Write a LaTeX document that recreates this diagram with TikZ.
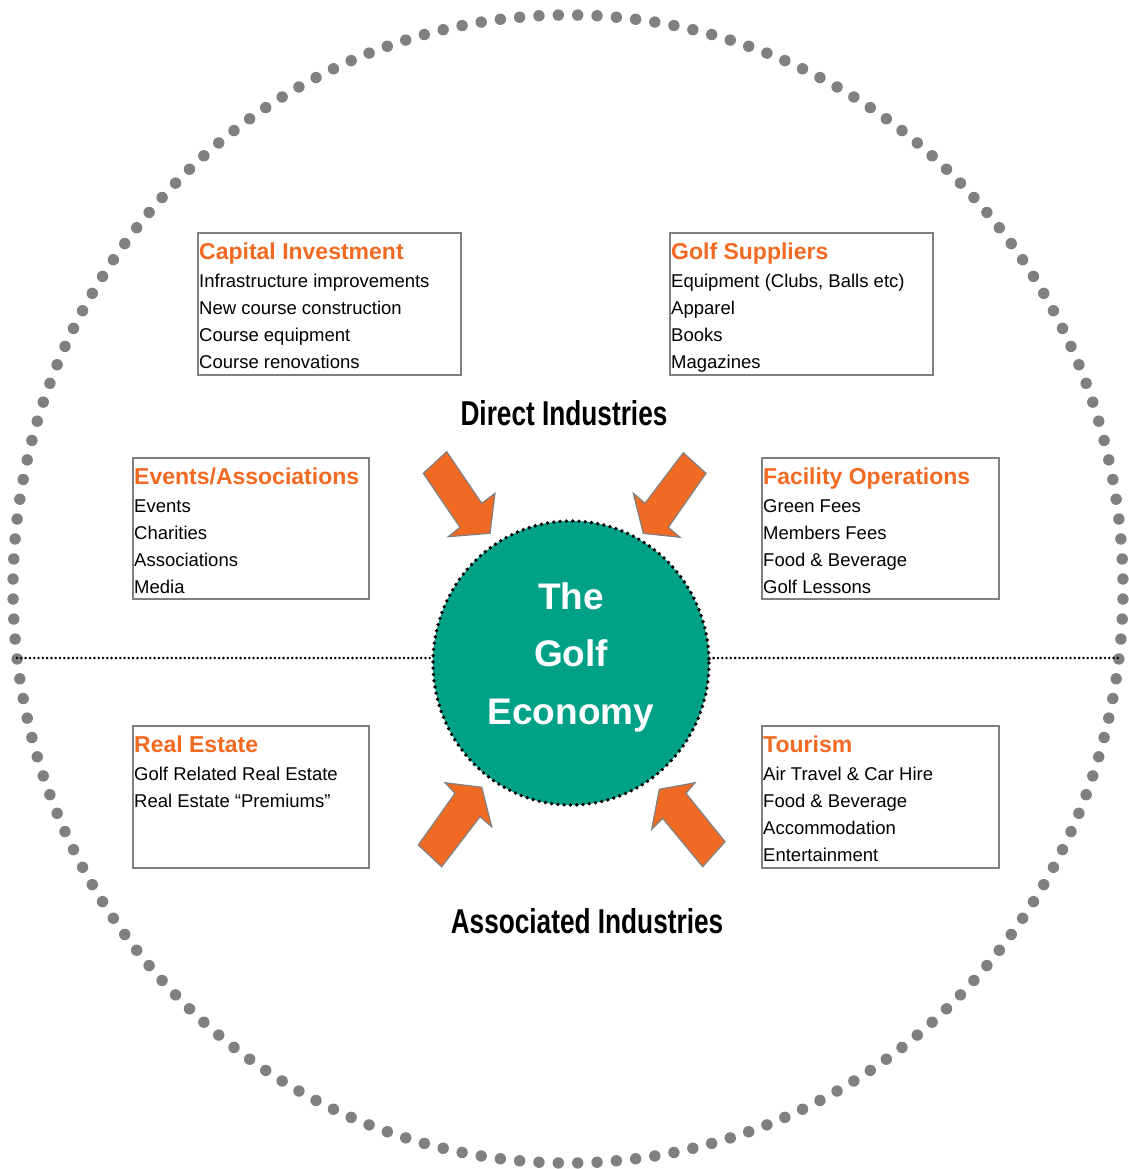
\documentclass[tikz,border=0pt]{standalone}
\usepackage{fontspec}
\setmainfont{Liberation Sans}
\newfontfamily\condfont{Liberation Sans}[FakeStretch=0.76]
\usetikzlibrary{shapes.geometric}
\definecolor{orng}{RGB}{242,106,34}
\definecolor{arroworng}{RGB}{241,106,36}
\definecolor{tealc}{RGB}{0,161,135}
\definecolor{dotgray}{RGB}{128,128,128}
\definecolor{boxgray}{RGB}{128,128,128}
\tikzset{
  panel/.style={draw=boxgray, line width=1.6pt, inner sep=0pt, fill=white},
  ptitle/.style={inner sep=0pt, text=orng, font=\fontsize{23}{27}\selectfont\bfseries},
  pbody/.style={inner sep=0pt, text=black, font=\fontsize{18.5}{27}\selectfont},
  heading/.style={inner sep=0pt, font=\fontsize{34.5}{40}\selectfont\condfont\bfseries},
  coretext/.style={inner sep=0pt, text=white, font=\fontsize{37}{44}\selectfont\bfseries},
  blockarrow/.style={fill=arroworng, draw=boxgray, line width=1.2pt, line join=miter},
  hdots/.style={line width=2.8pt, dash pattern=on 0pt off 4.3pt, line cap=round, black},
  coredots/.style={line width=3.8pt, dash pattern=on 0pt off 6.3pt, line cap=round, black},
}
\newcommand{\infopanel}[7]{%
  \node[panel, minimum width=#4, minimum height=#5, anchor=north west] (#1) at (#2,#3) {};
  \node[ptitle, anchor=base west] (#1-t) at ({#2+2},{#3+27}) {#6};
  \foreach \ltxt [count=\k] in {#7}
    \node[pbody, anchor=base west] (#1-\k) at ({#2+2},{#3+55+27*(\k-1)}) {\ltxt};
}
\begin{document}
\begin{tikzpicture}[x=1pt,y=-1pt]
\useasboundingbox (0,0) rectangle (1128,1169);
\fill[white] (0,0) rectangle (1128,1169);

% outer dotted ring
\foreach \a in {0,...,179}
  \fill[dotgray] ({568+555*cos(-90+1+2*\a)},{589+574*sin(-90+1+2*\a)}) circle[radius=5.7];

% horizontal dotted divider
\coordinate (hl) at (17,658);
\coordinate (hr) at (1122,658);
\draw[hdots] (hl) -- (hr);

% central circle
\node[ellipse, fill=tealc, minimum width=276, minimum height=284, inner sep=0pt] (core) at (571,663) {};
\draw[coredots] (core.center) ellipse[x radius=138, y radius=142];
\node[coretext, anchor=base] (core-1) at (571,609) {The};
\node[coretext, anchor=base] (core-2) at (571,666.5) {Golf};
\node[coretext, anchor=base] (core-3) at (571,724) {Economy};

% arrows
\draw[blockarrow] (423.3,473.3) -- (446.7,451.7) -- (481.7,503.3) -- (495,493.3) -- (490,533.3) -- (448.3,536.7) -- (460,527.3) -- cycle;
\draw[blockarrow] (683.3,452.7) -- (706,473.3) -- (668.3,527.3) -- (680,537.3) -- (643.3,533.3) -- (633.3,493.3) -- (645,503.3) -- cycle;
\draw[blockarrow] (418.3,845) -- (455,793.3) -- (445,782.7) -- (481.7,787.3) -- (491.7,826.7) -- (480,816.7) -- (441.7,866.7) -- cycle;
\draw[blockarrow] (725,841.7) -- (686,793.3) -- (695,782.7) -- (659.3,789.3) -- (651.7,829.3) -- (662.7,818.3) -- (702.7,866.7) -- cycle;

% headings
\node[heading, anchor=base] (direct) at (564,425.5) {Direct Industries};
\node[heading, anchor=base] (assoc) at (587,933) {Associated Industries};

% panels
\infopanel{capinv}{197}{232}{263}{142}{Capital Investment}{Infrastructure improvements,New course construction,Course equipment,Course renovations}
\infopanel{supp}{669}{232}{263}{142}{Golf Suppliers}{{Equipment (Clubs, Balls etc)},Apparel,Books,Magazines}
\infopanel{events}{132}{457}{236}{141}{Events/Associations}{Events,Charities,Associations,Media}
\infopanel{facil}{761}{457}{237}{141}{Facility Operations}{Green Fees,Members Fees,Food \& Beverage,Golf Lessons}
\infopanel{realest}{132}{725}{236}{142}{Real Estate}{Golf Related Real Estate,Real Estate “Premiums”}
\infopanel{tour}{761}{725}{237}{142}{Tourism}{Air Travel \& Car Hire,Food \& Beverage,Accommodation,Entertainment}
\end{tikzpicture}
\end{document}
